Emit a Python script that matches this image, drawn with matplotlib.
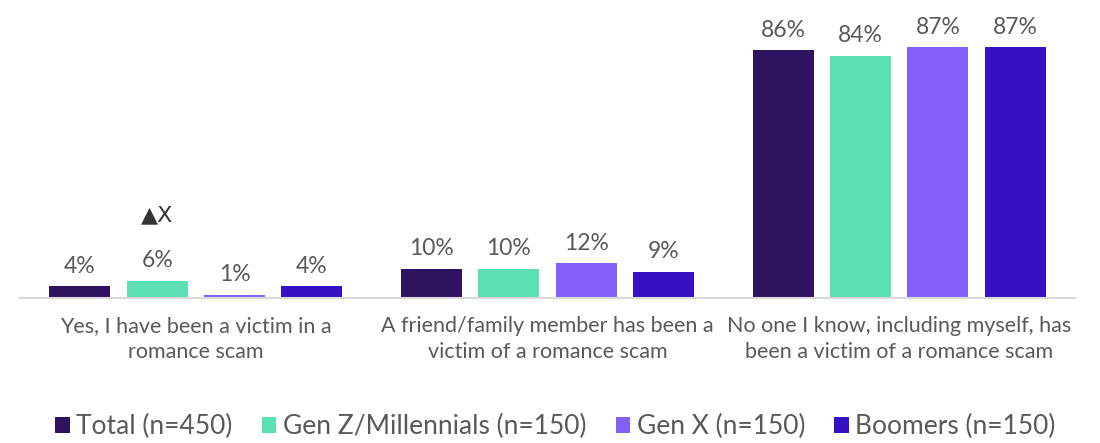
import numpy as np
import matplotlib
matplotlib.use("Agg")
import matplotlib.pyplot as plt

categories = [
    "Yes, I have been a victim in a\nromance scam",
    "A friend/family member has been a\nvictim of a romance scam",
    "No one I know, including myself, has\nbeen a victim of a romance scam",
]
series_names = ["Total (n=450)", "Gen Z/Millennials (n=150)", "Gen X (n=150)", "Boomers (n=150)"]
total = [4, 10, 86]
genz = [6, 10, 84]
genx = [1, 12, 87]
boomers = [4, 9, 87]
colors = ["#2E1260", "#5CDFB5", "#8360FA", "#3510C4"]

plt.rcParams["font.family"] = ["Lato", "DejaVu Sans"]
text_col = "#595959"

fig = plt.figure(figsize=(11, 4.43), dpi=100)
ax = fig.add_axes([20 / 1100, 145 / 443, 1055 / 1100, 288 / 443])

x = np.arange(len(categories))
width = 0.173
step = 0.22
all_series = [total, genz, genx, boomers]
for i, (vals, name, c) in enumerate(zip(all_series, series_names, colors)):
    pos = x + (i - 1.5) * step
    bars = ax.bar(pos, vals, width, color=c, label=name)
    for b, v in zip(bars, vals):
        ax.annotate(f"{v}%", (b.get_x() + b.get_width() / 2, v),
                    xytext=(0, 7), textcoords="offset points",
                    ha="center", va="bottom", fontsize=16.5, color=text_col)

# significance marker above Gen Z in first group
ax.annotate("▲X", (x[0] + (1 - 1.5) * step, genz[0]), xytext=(0, 40),
            textcoords="offset points", ha="center", va="bottom",
            fontsize=16, color="#333333", family=["DejaVu Sans"])

ax.set_xlim(-0.5, 2.5)
ax.set_ylim(0, 100)
ax.set_xticks(x)
ax.set_xticklabels(categories, fontsize=15.5, color=text_col, linespacing=1.4)
ax.tick_params(axis="x", length=0, pad=13)
ax.set_yticks([])
for s in ["top", "right", "left"]:
    ax.spines[s].set_visible(False)
ax.spines["bottom"].set_color("#D9D9D9")
ax.spines["bottom"].set_linewidth(1.5)

leg = fig.legend(loc="lower center", bbox_to_anchor=(0.505, -0.045), ncol=4,
                 frameon=False, fontsize=19, handlelength=0.55, handleheight=0.55,
                 handletextpad=0.25, columnspacing=1.1)
for t in leg.get_texts():
    t.set_color(text_col)

fig.savefig("out.png", dpi=100)
